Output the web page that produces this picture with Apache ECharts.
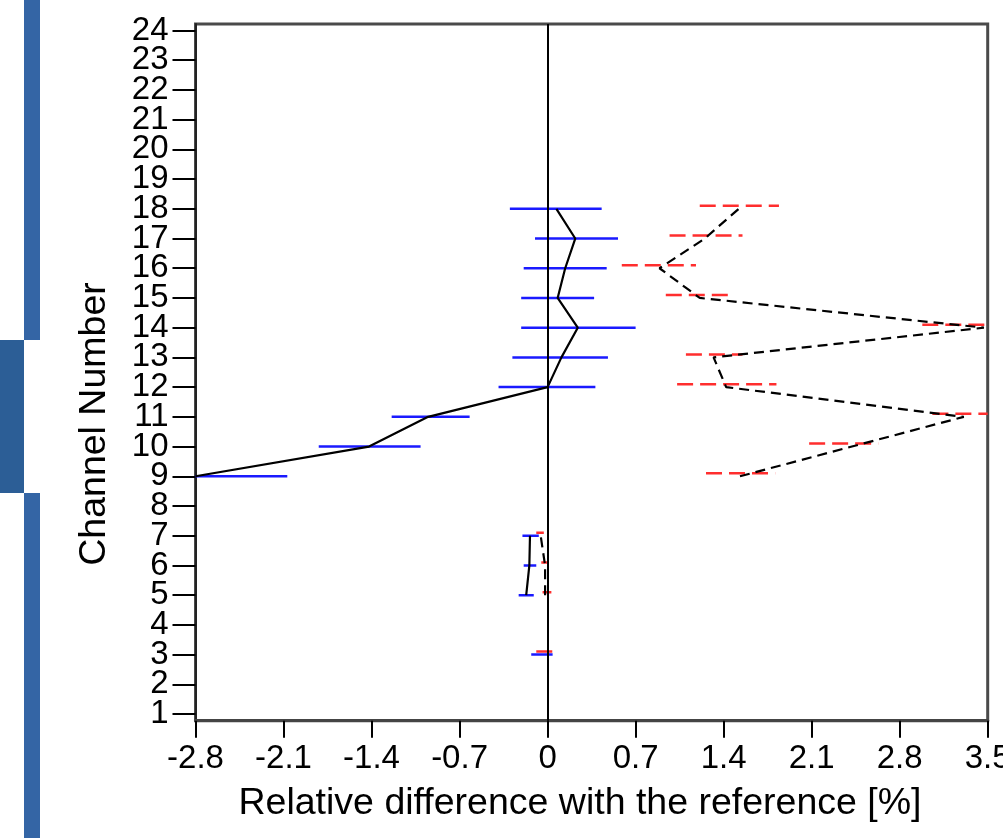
<!DOCTYPE html>
<html>
<head>
<meta charset="utf-8">
<script src="https://cdn.jsdelivr.net/npm/echarts@6/dist/echarts.min.js"></script>
<style>
  html, body { margin: 0; padding: 0; background: #fff; }
  #main { width: 1003px; height: 838px; }
</style>
</head>
<body>
<div id="main"></div>
<script>
// channels that have a measurement
var channels = [3, 5, 6, 7, 9, 10, 11, 12, 13, 14, 15, 16, 17, 18];
// blue set (solid line)
var blueVal = [-0.04, -0.17, -0.145, -0.14, -2.8, -1.42, -0.95, 0.0, 0.11, 0.24, 0.08, 0.14, 0.22, 0.07];
var blueLo  = [-0.13, -0.23, -0.19, -0.20, -3.5, -1.82, -1.24, -0.39, -0.28, -0.21, -0.21, -0.19, -0.10, -0.30];
var blueHi  = [0.04, -0.11, -0.09, -0.07, -2.07, -1.01, -0.62, 0.38, 0.48, 0.70, 0.37, 0.47, 0.56, 0.43];
// red set (dashed line)
var redVal = [-0.01, -0.02, -0.02, -0.055, 1.53, 2.42, 3.31, 1.42, 1.32, 3.47, 1.21, 0.89, 1.25, 1.52];
var redLo  = [-0.09, -0.04, -0.05, -0.09, 1.26, 2.08, 3.06, 1.03, 1.10, 2.98, 0.94, 0.59, 0.97, 1.21];
var redHi  = [0.07, 0.03, 0.01, -0.03, 1.81, 2.63, 3.90, 1.82, 1.55, 3.90, 1.48, 1.18, 1.55, 1.84];

// y ticks 1..24, split odd / even so neighbouring labels never collide
var yTicksOdd = [1, 3, 5, 7, 9, 11, 13, 15, 17, 19, 21, 23];
var yTicksEven = [2, 4, 6, 8, 10, 12, 14, 16, 18, 20, 22, 24];

var FONT = '"Liberation Sans", Arial, sans-serif';

// split into runs of consecutive channels so gaps are not joined
function segments(vals) {
    var segs = [], cur = [];
    for (var i = 0; i < channels.length; i++) {
        if (cur.length && channels[i] !== channels[i - 1] + 1) {
            segs.push(cur);
            cur = [];
        }
        cur.push([vals[i], channels[i]]);
    }
    if (cur.length) segs.push(cur);
    return segs;
}

function errorSeries(lo, hi, color, dash, offset) {
    var data = [];
    for (var i = 0; i < channels.length; i++) data.push([lo[i], hi[i], channels[i] + offset]);
    return {
        type: 'custom',
        clip: true,
        z: 3,
        data: data,
        renderItem: function (params, api) {
            var a = api.coord([api.value(0), api.value(2)]);
            var b = api.coord([api.value(1), api.value(2)]);
            var cs = params.coordSys;
            var x1 = Math.max(a[0], cs.x), x2 = Math.min(b[0], cs.x + cs.width);
            return {
                type: 'line',
                shape: { x1: x1, y1: a[1], x2: x2, y2: a[1] },
                style: { stroke: color, lineWidth: 2.5, lineDash: dash }
            };
        }
    };
}

function yAxisFor(ticks, showLine) {
    return {
        type: 'value', min: 0.7745, max: 24.219, position: 'left',
        axisLine: { show: showLine, onZero: false, lineStyle: { color: '#222', width: 2 } },
        axisTick: { length: 23, customValues: ticks, lineStyle: { color: '#000', width: 2 } },
        splitLine: { show: false },
        axisLabel: {
            margin: 27, customValues: ticks, fontFamily: FONT, fontSize: 33,
            color: '#000', showMinLabel: true, showMaxLabel: true
        }
    };
}

var series = [];
segments(blueVal).forEach(function (seg, k) {
    var s = {
        type: 'line', data: seg, symbol: 'none', z: 4,
        lineStyle: { color: '#000', width: 2.2 }
    };
    if (k === 0) {
        s.markLine = {
            silent: true, symbol: 'none', label: { show: false },
            lineStyle: { color: '#000', width: 2, type: 'solid' },
            data: [{ xAxis: 0 }]
        };
    }
    series.push(s);
});
segments(redVal).forEach(function (seg) {
    series.push({
        type: 'line', data: seg, symbol: 'none', z: 4,
        lineStyle: { color: '#000', width: 2.2, type: [10, 6] }
    });
});
series.push(errorSeries(blueLo, blueHi, '#1a1aff', null, 0));
series.push(errorSeries(redLo, redHi, '#ff2e2e', [16, 7], 0.1));

var myChart = echarts.init(document.getElementById('main'));
myChart.setOption({
    animation: false,
    backgroundColor: '#fff',
    graphic: [
        { type: 'rect', shape: { x: 24, y: 0, width: 16, height: 340 }, style: { fill: '#3465a5' } },
        { type: 'rect', shape: { x: 0, y: 340, width: 24, height: 153 }, style: { fill: '#2c5e96' } },
        { type: 'rect', shape: { x: 24, y: 493, width: 16, height: 345 }, style: { fill: '#3465a5' } },
        {
            type: 'text', x: 95, y: 424, rotation: Math.PI / 2,
            style: {
                text: 'Channel Number', fontFamily: FONT, fontSize: 37.5, fill: '#000',
                align: 'center', verticalAlign: 'middle'
            }
        },
        {
            type: 'text', x: 580, y: 804,
            style: {
                text: 'Relative difference with the reference [%]', fontFamily: FONT, fontSize: 37.5,
                fill: '#000', align: 'center', verticalAlign: 'middle'
            }
        }
    ],
    grid: {
        left: 195.5, right: 15.3, top: 24, bottom: 117.3,
        outerBoundsMode: 'none',
        show: true, borderColor: '#4a4a4a', borderWidth: 3, backgroundColor: 'transparent'
    },
    xAxis: {
        type: 'value', min: -2.8, max: 3.5, interval: 0.7,
        axisLine: { onZero: false, lineStyle: { color: '#444', width: 3 } },
        axisTick: { length: 17, lineStyle: { color: '#000', width: 2 } },
        splitLine: { show: false },
        axisLabel: {
            margin: 22, fontFamily: FONT, fontSize: 33, color: '#000',
            showMinLabel: true, showMaxLabel: true,
            formatter: function (v) { return String(Number(v.toFixed(1))); }
        }
    },
    yAxis: [yAxisFor(yTicksOdd, true), yAxisFor(yTicksEven, false)],
    series: series
});
</script>
</body>
</html>
